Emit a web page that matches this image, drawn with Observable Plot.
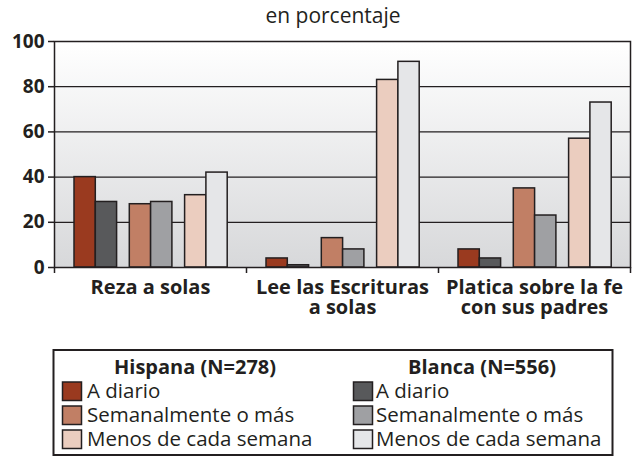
<!DOCTYPE html>
<html>
<head>
<meta charset="utf-8">
<script src="https://cdn.jsdelivr.net/npm/d3@7"></script>
<script src="https://cdn.jsdelivr.net/npm/@observablehq/plot@0.6"></script>
<style>
  body { margin: 0; background: #ffffff; font-family: "Open Sans", sans-serif; color: #231f20; }
  #title { width: 635px; height: 30px; line-height: 30px; font-size: 21px; text-align: center;
           padding-left: 31px; box-sizing: border-box; white-space: nowrap; }
  svg { display: block; }
</style>
</head>
<body>
<div id="title">en porcentaje</div>
<div id="chart"></div>
<div id="legend"></div>
<script>
// ---- data ----
const categories = ["Reza a solas", "Lee las Escrituras a solas", "Platica sobre la fe con sus padres"];
const categoryLabels = ["Reza a solas", "Lee las Escrituras\na solas", "Platica sobre la fe\ncon sus padres"];
const hispanaDiario  = [40, 4, 8];
const blancaDiario   = [29, 1, 4];
const hispanaSemanal = [28, 13, 35];
const blancaSemanal  = [29, 8, 23];
const hispanaMenos   = [32, 83, 57];
const blancaMenos    = [42, 91, 73];
const yTicks = [0, 20, 40, 60, 80, 100];
const groupNames = ["Hispana (N=278)", "Blanca (N=556)"];
const frequencyNames = ["A diario", "Semanalmente o más", "Menos de cada semana"];
const hispanaColors = ["#9a3a1f", "#c17f65", "#ebcdbf"];
const blancaColors  = ["#58595b", "#9fa0a3", "#e5e6e8"];

// ---- layout ----
const ink = "#231f20";
const W = 635, H = 319, mL = 54, mR = 5, mT = 11, mB = 82;
const bw = (W - mL - mR) / categories.length;
const barW = 21.3, pairStep = 55.3, pad0 = 20;

const series = [
  {values: hispanaDiario,  color: hispanaColors[0]},
  {values: blancaDiario,   color: blancaColors[0]},
  {values: hispanaSemanal, color: hispanaColors[1]},
  {values: blancaSemanal,  color: blancaColors[1]},
  {values: hispanaMenos,   color: hispanaColors[2]},
  {values: blancaMenos,    color: blancaColors[2]}
];

const barMarks = series.map((s, i) => {
  const left = pad0 + Math.floor(i / 2) * pairStep + (i % 2) * barW;
  const rows = categories.map((c, j) => ({category: c, value: s.values[j]}));
  return Plot.barY(rows, {
    x: "category", y: "value", fill: s.color, stroke: ink, strokeWidth: 1.5,
    insetLeft: left, insetRight: bw - left - barW
  });
});

const chart = Plot.plot({
  width: W, height: H,
  marginLeft: mL, marginRight: mR, marginTop: mT, marginBottom: mB,
  x: {domain: categories, padding: 0},
  y: {domain: [0, 100]},
  style: {fontFamily: "'Open Sans', sans-serif", color: ink, background: "transparent", overflow: "visible"},
  marks: [
    Plot.frame({fill: "url(#bgGrad)", stroke: "none"}),
    Plot.ruleY(yTicks.slice(1, -1), {stroke: ink, strokeWidth: 1.3}),
    ...barMarks,
    Plot.frame({stroke: ink, strokeWidth: 1.5, fill: "none"}),
    Plot.ruleX(categories, {dx: -bw / 2, y1: 0, y2: 0, insetBottom: -6, stroke: ink, strokeWidth: 1.5}),
    Plot.ruleX(categories.slice(-1), {dx: bw / 2, y1: 0, y2: 0, insetBottom: -6, stroke: ink, strokeWidth: 1.5}),
    Plot.axisY({ticks: yTicks, tickSize: 6, tickPadding: 4, fontSize: 19, fontWeight: "bold",
                label: null, strokeWidth: 1.5}),
    Plot.axisX({tickSize: 0, tickPadding: 13, fontSize: 20, fontWeight: "bold", lineHeight: 0.97,
                label: null, tickFormat: d => categoryLabels[categories.indexOf(d)]})
  ]
});

const defs = d3.select(chart).insert("defs", ":first-child");
const grad = defs.append("linearGradient").attr("id", "bgGrad")
  .attr("x1", 0).attr("y1", 0).attr("x2", 0).attr("y2", 1);
grad.append("stop").attr("offset", 0).attr("stop-color", "#ffffff");
grad.append("stop").attr("offset", 1).attr("stop-color", "#d7d8da");
document.getElementById("chart").appendChild(chart);

// ---- legend ----
const lg = d3.select("#legend").append("svg").attr("width", W).attr("height", 108)
  .style("font-family", "'Open Sans', sans-serif");
lg.append("rect").attr("x", 53.5).attr("y", 1).attr("width", 559).attr("height", 105)
  .attr("fill", "#ffffff").attr("stroke", ink).attr("stroke-width", 2);
const columns = [
  {name: groupNames[0], colors: hispanaColors, headX: 195, swX: 62.5, txX: 87},
  {name: groupNames[1], colors: blancaColors,  headX: 482, swX: 353.5, txX: 376}
];
columns.forEach(col => {
  lg.append("text").attr("x", col.headX).attr("y", 25).attr("text-anchor", "middle")
    .attr("font-size", 20).attr("font-weight", "bold").attr("fill", ink).text(col.name);
  frequencyNames.forEach((f, j) => {
    const base = 49 + 24 * j;
    lg.append("rect").attr("x", col.swX).attr("y", base - 16).attr("width", 19).attr("height", 18.5)
      .attr("fill", col.colors[j]).attr("stroke", ink).attr("stroke-width", 1.5);
    lg.append("text").attr("x", col.txX).attr("y", base).attr("font-size", 20.5)
      .attr("fill", ink).text(f);
  });
});
</script>
</body>
</html>
